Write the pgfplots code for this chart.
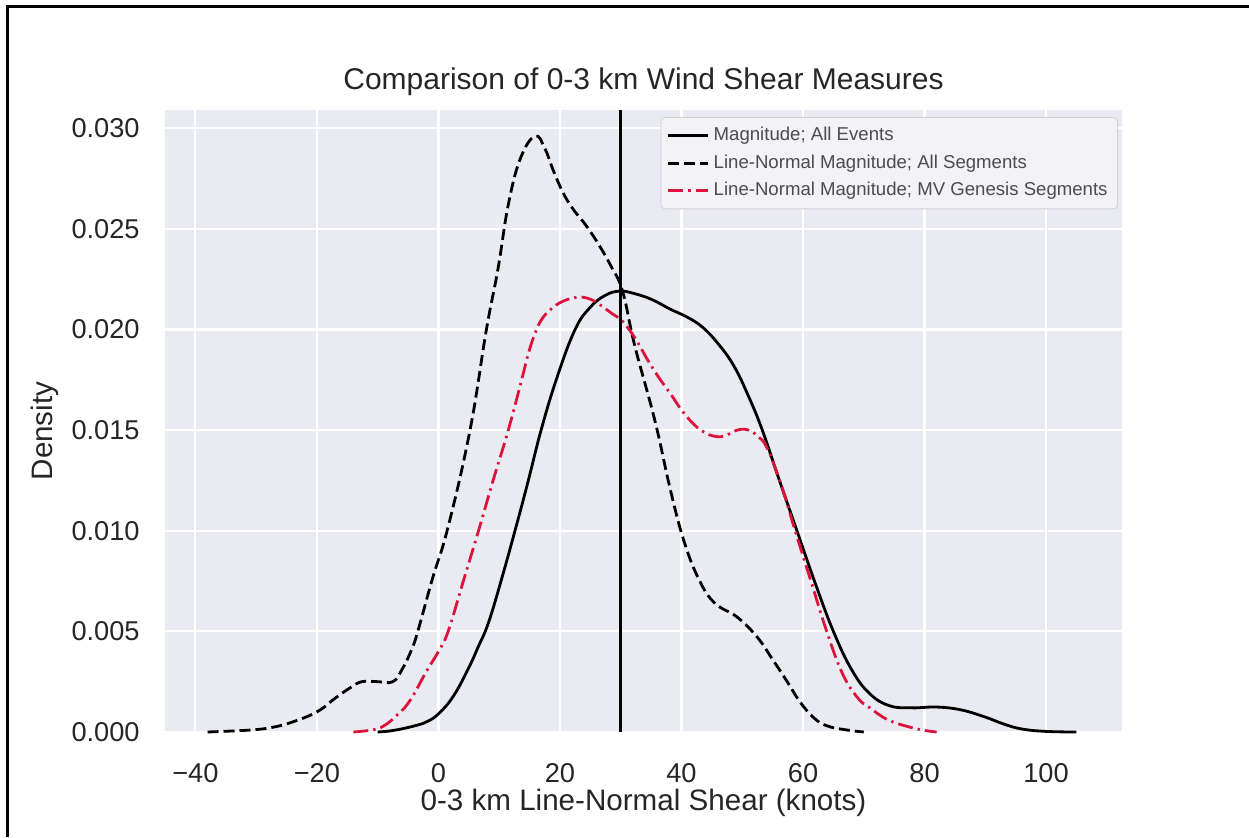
\documentclass[border=0pt]{standalone}
\usepackage{pgfplots}
\pgfplotsset{compat=1.18}
\usepackage{fontspec}
\setmainfont{Liberation Sans}

\definecolor{sbbg}{HTML}{EAEAF2}
\definecolor{sbtext}{HTML}{262626}
\definecolor{crim}{HTML}{DC143C}

% KDE curves
\pgfplotstableread{
x y
-38 0
-34 0.00005
-30 0.00012
-27 0.00025
-24 0.0005
-20 0.001
-16.9 0.0017
-14.5 0.0022
-12.6 0.0025
-10 0.0025
-7.5 0.0025
-6 0.0031
-4.4 0.0041
-3.3 0.0051
-1 0.0076
1.6 0.0102
5.2 0.015
7.9 0.020
9.8 0.0230
11.5 0.0262
13.5 0.0285
15.9 0.0296
17.5 0.0290
18.9 0.0279
20.5 0.0268
22.1 0.0260
24.2 0.0252
26.2 0.0243
28.3 0.0232
30.3 0.0219
32.3 0.0192
35.6 0.0155
38.2 0.0120
40.5 0.0094
43 0.0075
45.5 0.0064
49.2 0.0057
52.5 0.0047
55 0.0036
57.4 0.0025
59.5 0.0015
61.8 0.0007
64 0.0003
67.2 0.0001
70 0
}\segall

\pgfplotstableread{
x y
-10 0
-8 0.00005
-6.6 0.00012
-4 0.0003
-2 0.0005
0 0.0009
2.5 0.0018
5 0.0032
6.5 0.0042
8.2 0.0054
10.3 0.0075
12.6 0.010
14.8 0.0125
16.9 0.015
19.5 0.0176
22.5 0.0200
25 0.0211
27.5 0.0217
29.8 0.0219
32 0.0218
35 0.0215
38.2 0.0210
41 0.0206
43.5 0.0201
46 0.0193
48.6 0.0182
51 0.0167
53.3 0.0150
56 0.0126
59 0.0100
62 0.0074
65 0.0050
68 0.0031
71 0.0019
74.3 0.0013
78 0.0012
82 0.00124
86 0.0011
90 0.00074
93 0.0004
96 0.00015
100 0.00003
105 0
}\allevents

\pgfplotstableread{
x y
-14 0
-11 0.0001
-9 0.0003
-6.6 0.0009
-4.6 0.0016
-2 0.0030
0 0.0040
1.6 0.0050
4.1 0.0075
6.6 0.0100
9 0.0125
11.5 0.0150
13.7 0.0175
14.8 0.0188
15.9 0.0198
17 0.0205
18.5 0.0210
20.5 0.0214
23 0.0216
25 0.0215
26.7 0.0212
28.5 0.0208
30.3 0.0204
32.5 0.0195
34.4 0.0185
36.3 0.0176
38.2 0.0168
40 0.0160
42 0.0153
43.7 0.0149
45.3 0.0147
47 0.0147
49.2 0.0150
51 0.0150
52.5 0.0147
54.1 0.0141
56.5 0.0122
58.7 0.0100
61.3 0.0075
63.9 0.0050
66.5 0.0029
69 0.0017
71 0.0012
74 0.0006
77.5 0.00025
80 0.00008
82 0
}\mvgen

\begin{document}
\begin{tikzpicture}
\useasboundingbox (0,0) rectangle (624.5pt,418.5pt);
\fill[white] (0,0) rectangle (624.5pt,418.5pt);
\draw[line width=1.4pt,black] (3.9pt,0) -- (3.9pt,415.4pt) -- (624.5pt,415.4pt);
\begin{axis}[
    at={(82.5pt,52.5pt)}, anchor=south west,
    scale only axis,
    width=478.5pt, height=311pt,
    xmin=-45, xmax=112.5,
    ymin=0, ymax=0.0309,
    clip=false,
    scaled y ticks=false,
    axis background/.style={fill=sbbg},
    axis line style={draw=none},
    major tick length=0pt,
    grid=major,
    grid style={white, line width=1.1pt},
    xtick={-40,-20,0,20,40,60,80,100},
    xticklabels={−40,−20,0,20,40,60,80,100},
    ytick={0,0.005,0.010,0.015,0.020,0.025,0.030},
    yticklabels={0.000,0.005,0.010,0.015,0.020,0.025,0.030},
    tick label style={font=\fontsize{13.6}{16}\selectfont, text=sbtext, inner sep=0pt},
    xticklabel style={anchor=center, yshift=-20.5pt},
    yticklabel style={anchor=east, xshift=-12.5pt},
    title={Comparison of 0-3 km Wind Shear Measures},
    title style={at={(axis description cs:0.5,1)}, anchor=center, yshift=8pt,
        font=\fontsize{15}{18}\selectfont, text=sbtext},
    xlabel={0-3 km Line-Normal Shear (knots)},
    xlabel style={at={(axis description cs:0.5,0)}, anchor=center, yshift=-35.5pt,
        font=\fontsize{14.8}{18}\selectfont, text=sbtext},
    ylabel={Density},
    ylabel style={at={(axis description cs:0,0.5)}, anchor=center, yshift=60pt, xshift=-5pt,
        font=\fontsize{14.8}{18}\selectfont, text=sbtext},
    legend cell align=left,
    legend style={at={(axis description cs:0.9958,0.9887)}, anchor=north east,
        fill=sbbg!60!white, draw=black!18, rounded corners=2pt,
        font=\fontsize{9.3}{11}\selectfont, text=black!70,
        row sep=1.5pt, inner xsep=3pt, inner ysep=3pt},
    legend image code/.code={\draw[#1] (0pt,0pt) -- (20pt,0pt);},
]
\addplot[black, line width=1.4pt, smooth, tension=0.7] table {\allevents};
\addlegendentry{Magnitude; All Events}
\addplot[black, line width=1.4pt, smooth, tension=0.7, dash pattern=on 5.5pt off 2.5pt] table {\segall};
\addlegendentry{Line-Normal Magnitude; All Segments}
\addplot[crim, line width=1.4pt, smooth, tension=0.7, dash pattern=on 7.5pt off 2.5pt on 1.2pt off 2.5pt] table {\mvgen};
\addlegendentry{Line-Normal Magnitude; MV Genesis Segments}
\addplot[black, line width=1.4pt, forget plot] coordinates {(30,0) (30,0.0309)};
\end{axis}
\end{tikzpicture}
\end{document}
